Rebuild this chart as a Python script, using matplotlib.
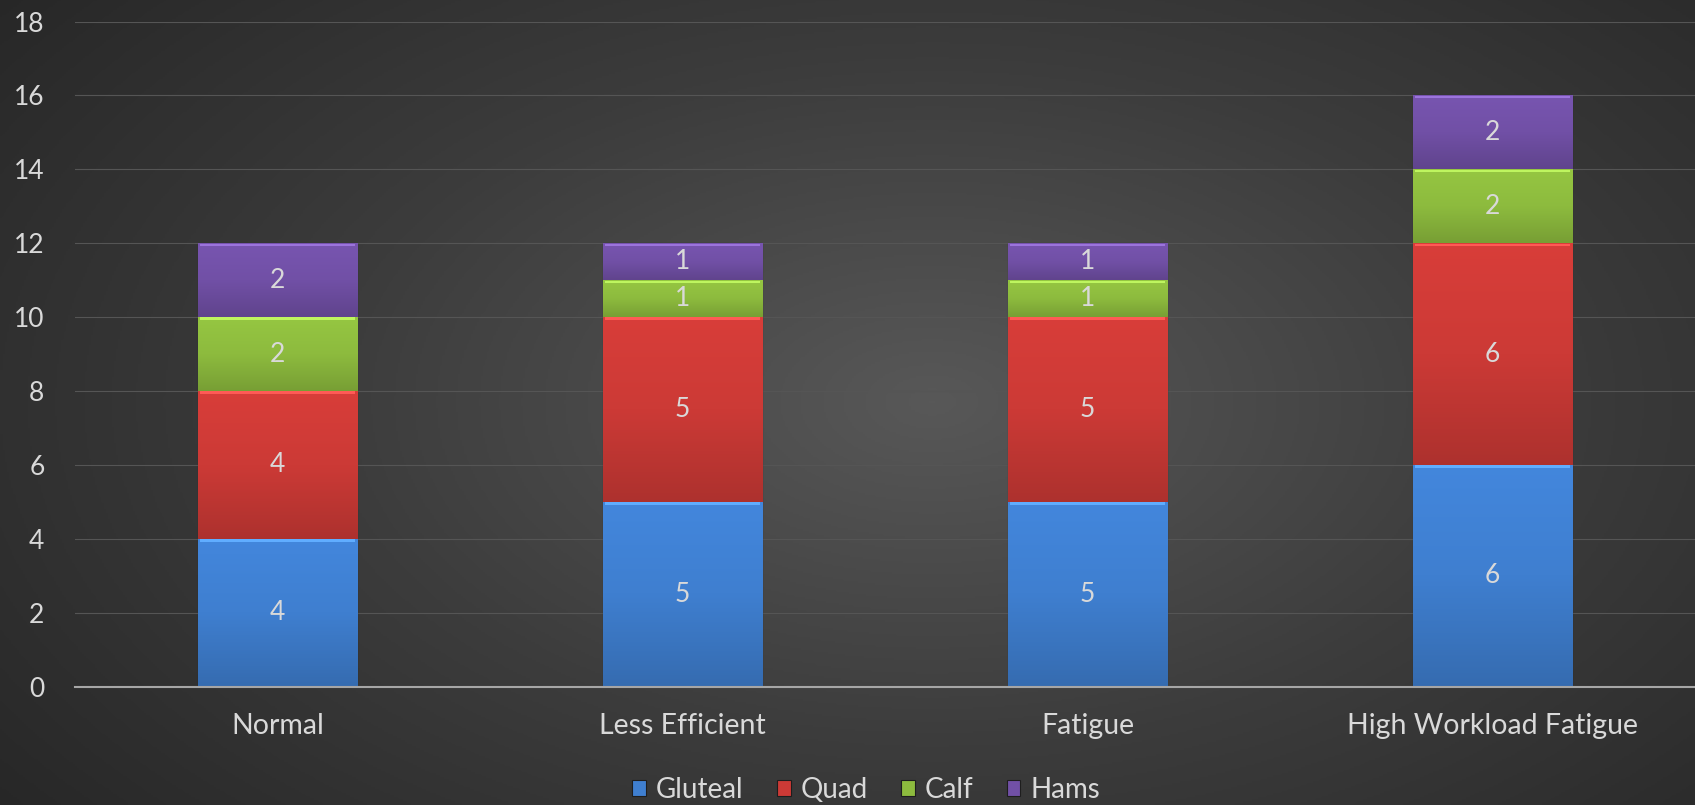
import numpy as np
import matplotlib.pyplot as plt
from matplotlib.colors import LinearSegmentedColormap, to_rgb

categories = ['Normal', 'Less Efficient', 'Fatigue', 'High Workload Fatigue']
gluteal = [4, 5, 5, 6]
quad = [4, 5, 5, 6]
calf = [2, 1, 1, 2]
hams = [2, 1, 1, 2]

series = [('Gluteal', gluteal, '#3f7fd0'),
          ('Quad', quad, '#cc3a36'),
          ('Calf', calf, '#8dbb3e'),
          ('Hams', hams, '#7150a6')]

plt.rcParams['font.family'] = ['Lato', 'DejaVu Sans']
txt = '#d9d9d9'

fig = plt.figure(figsize=(16.95, 8.05), dpi=100)

# radial background
bg = fig.add_axes([0, 0, 1, 1], zorder=-1)
yy, xx = np.mgrid[0:1:400j, 0:1:800j]
r = np.sqrt(((xx - 0.55) / 0.75) ** 2 + ((yy - 0.5) / 0.9) ** 2)
bg_cmap = LinearSegmentedColormap.from_list('bg', ['#585858', '#3c3c3c', '#262626'])
bg.imshow(r, cmap=bg_cmap, aspect='auto', extent=[0, 1, 0, 1], vmin=0, vmax=0.95)
bg.axis('off')

ax = fig.add_axes([75 / 1695, 1 - 686.5 / 805, 1 - 75 / 1695, (686.5 - 21.6) / 805])
ax.patch.set_alpha(0)

x = np.arange(len(categories))
w = 0.395
bottom = np.zeros(len(categories))
handles = []
for name, vals, col in series:
    vals = np.array(vals, dtype=float)
    bars = ax.bar(x, vals, w, bottom=bottom, color=col, edgecolor='#1e1e1e',
                  linewidth=0.8, zorder=3, label=name)
    handles.append(bars)
    c = np.array(to_rgb(col))
    cm = LinearSegmentedColormap.from_list(name, [c * 0.85, c, np.minimum(c * 1.06, 1)])
    grad = np.linspace(0, 1, 100).reshape(-1, 1)
    for xi, b, v, p in zip(x, bottom, vals, bars.patches):
        im = ax.imshow(grad, cmap=cm, origin='lower', aspect='auto',
                       extent=[xi - w / 2, xi + w / 2, b, b + v], zorder=3.5)
        im.set_clip_path(p)
        # bevel highlight on top edge
        ax.bar(xi, 0.07, w * 0.97, bottom=b + v - 0.08,
               color=np.minimum(c * 1.2 + 0.08, 1), zorder=4, linewidth=0)
        ax.text(xi, b + v / 2, f'{int(v)}', ha='center', va='center',
                color=txt, fontsize=19, zorder=5)
    bottom += vals

ax.set_xlim(-0.5, len(categories) - 0.5)
ax.set_ylim(0, 18)
ax.set_yticks(np.arange(0, 19, 2))
ax.set_xticks(x)
ax.set_xticklabels(categories)
ax.tick_params(axis='both', length=0, colors=txt)
ax.tick_params(axis='x', pad=19, labelsize=20.5)
ax.tick_params(axis='y', pad=22, labelsize=19)
ax.grid(axis='y', color='#555555', linewidth=0.8, zorder=0)
for s in ['top', 'right', 'left']:
    ax.spines[s].set_visible(False)
ax.spines['bottom'].set_color('#a6a6a6')
ax.spines['bottom'].set_linewidth(1.5)
ax.spines['bottom'].set_zorder(6)

leg = fig.legend(handles=handles, loc='center', bbox_to_anchor=(866 / 1695, 1 - 790 / 805),
                 ncol=4, frameon=False, fontsize=20, labelcolor=txt,
                 handlelength=0.5, handleheight=0.5, handletextpad=0.35, columnspacing=1.2)

fig.savefig('out.png', dpi=100)
